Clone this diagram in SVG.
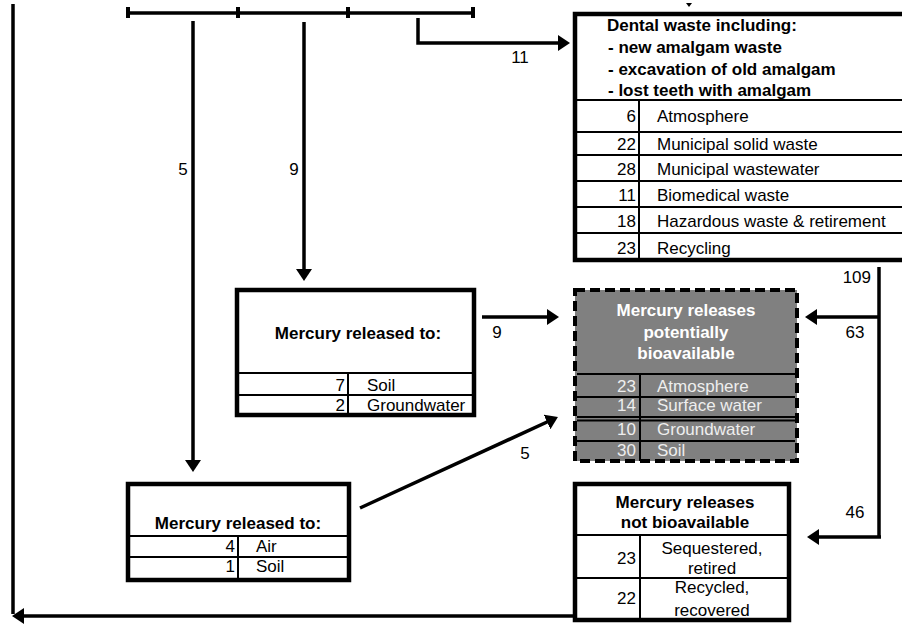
<svg xmlns="http://www.w3.org/2000/svg" width="902" height="624" viewBox="0 0 902 624">
<style>
text{font-family:"Liberation Sans",Arial,sans-serif;font-size:17px;fill:#000}
.b{font-weight:bold}
.m{text-anchor:middle}
.r{text-anchor:end}
.w{fill:#ffffff}
.lw{fill:#eeeeee}
.box{fill:#fff;stroke:#000;stroke-width:4.5}
.gbox{fill:#808080;stroke:#000;stroke-width:4;stroke-dasharray:10 5}
.div{stroke:#000;stroke-width:2;fill:none}
.con{stroke:#000;stroke-width:3.5;fill:none}
</style>
<defs>
<marker id="ah" markerUnits="userSpaceOnUse" markerWidth="12" markerHeight="16" refX="6" refY="8" orient="auto">
<path d="M0,0 L12,8 L0,16 z" fill="#000"/>
</marker>
</defs>

<g id="connectors">
<line class="con" x1="128" y1="13" x2="473" y2="13"/>
<rect x="126" y="7" width="4" height="11" fill="#000"/>
<rect x="236" y="7" width="4" height="11" fill="#000"/>
<rect x="346" y="7" width="4" height="11" fill="#000"/>
<rect x="471" y="7" width="4" height="11" fill="#000"/>
<line class="con" x1="13" y1="4" x2="13" y2="614"/>
<line class="con" x1="573" y1="616" x2="18" y2="616" marker-end="url(#ah)"/>
<line class="con" x1="193" y1="21" x2="193" y2="466" marker-end="url(#ah)"/>
<line class="con" x1="304" y1="22" x2="304" y2="275" marker-end="url(#ah)"/>
<polyline class="con" points="418,18 418,43 564,43" marker-end="url(#ah)"/>
<line class="con" x1="482" y1="317" x2="553" y2="317" marker-end="url(#ah)"/>
<line class="con" x1="360" y1="508" x2="552.5" y2="419.5" marker-end="url(#ah)"/>
<line class="con" x1="879" y1="267" x2="879" y2="537"/>
<line class="con" x1="879" y1="317" x2="811" y2="317" marker-end="url(#ah)"/>
<line class="con" x1="881" y1="537" x2="813" y2="537" marker-end="url(#ah)"/>
<polygon points="686,3 692,3 689,7" fill="#000"/>
<text class="m" x="520" y="63">11</text>
<text class="m" x="183" y="175">5</text>
<text class="m" x="294" y="175">9</text>
<text class="m" x="497" y="338">9</text>
<text class="m" x="525" y="459">5</text>
<text class="r" x="871" y="283">109</text>
<text class="m" x="855" y="338">63</text>
<text class="m" x="855" y="518">46</text>
</g>

<g id="dental">
<rect class="box" x="575" y="14" width="340" height="246"/>
<text class="b" x="607" y="31">Dental waste including:</text>
<text class="b" x="608" y="53"> - new amalgam waste</text>
<text class="b" x="608" y="75"> - excavation of old amalgam</text>
<text class="b" x="608" y="96"> - lost teeth with amalgam</text>
<line class="div" x1="575" y1="100" x2="902" y2="100"/>
<line class="div" x1="575" y1="132" x2="902" y2="132"/>
<line class="div" x1="575" y1="155" x2="902" y2="155"/>
<line class="div" x1="575" y1="181" x2="902" y2="181"/>
<line class="div" x1="575" y1="207" x2="902" y2="207"/>
<line class="div" x1="575" y1="233" x2="902" y2="233"/>
<line class="div" x1="639" y1="100" x2="639" y2="260"/>
<text class="r" x="636" y="122">6</text><text x="657" y="122">Atmosphere</text>
<text class="r" x="636" y="150">22</text><text x="657" y="150">Municipal solid waste</text>
<text class="r" x="636" y="175">28</text><text x="657" y="175">Municipal wastewater</text>
<text class="r" x="636" y="201">11</text><text x="657" y="201">Biomedical waste</text>
<text class="r" x="636" y="227">18</text><text x="657" y="227">Hazardous waste &amp; retirement</text>
<text class="r" x="636" y="254">23</text><text x="657" y="254">Recycling</text>
</g>

<g id="bioavailable">
<rect class="gbox" x="575" y="290" width="222" height="171"/>
<text class="b m w" x="686" y="316">Mercury releases</text>
<text class="b m w" x="686" y="338">potentially</text>
<text class="b m w" x="686" y="359">bioavailable</text>
<line class="div" x1="577" y1="374" x2="795" y2="374"/>
<line class="div" x1="577" y1="397" x2="795" y2="397"/>
<line class="div" x1="577" y1="417" x2="795" y2="417"/>
<line class="div" x1="577" y1="420.5" x2="795" y2="420.5"/>
<line class="div" x1="577" y1="441" x2="795" y2="441"/>
<line class="div" x1="640" y1="374" x2="640" y2="461"/>
<text class="r lw" x="636" y="392">23</text><text class="lw" x="657" y="392">Atmosphere</text>
<text class="r lw" x="636" y="411">14</text><text class="lw" x="657" y="411">Surface water</text>
<text class="r lw" x="636" y="435">10</text><text class="lw" x="657" y="435">Groundwater</text>
<text class="r lw" x="636" y="456">30</text><text class="lw" x="657" y="456">Soil</text>
</g>

<g id="released-mid">
<rect class="box" x="237" y="290" width="237" height="125"/>
<text class="b m" x="358" y="339">Mercury released to:</text>
<line class="div" x1="237" y1="373" x2="474" y2="373"/>
<line class="div" x1="237" y1="395" x2="474" y2="395"/>
<line class="div" x1="348" y1="373" x2="348" y2="415"/>
<text class="r" x="345" y="391">7</text><text x="367" y="391">Soil</text>
<text class="r" x="345" y="411">2</text><text x="367" y="411">Groundwater</text>
</g>

<g id="released-low">
<rect class="box" x="128" y="484" width="221" height="96"/>
<text class="b m" x="238" y="529">Mercury released to:</text>
<line class="div" x1="128" y1="536" x2="349" y2="536"/>
<line class="div" x1="128" y1="557" x2="349" y2="557"/>
<line class="div" x1="238" y1="536" x2="238" y2="580"/>
<text class="r" x="235" y="552">4</text><text x="256" y="552">Air</text>
<text class="r" x="235" y="572">1</text><text x="256" y="572">Soil</text>
</g>

<g id="not-bioavailable">
<rect class="box" x="575" y="484" width="214" height="136"/>
<text class="b m" x="685" y="508">Mercury releases</text>
<text class="b m" x="685" y="528">not bioavailable</text>
<line class="div" x1="575" y1="535" x2="789" y2="535"/>
<line class="div" x1="575" y1="578" x2="789" y2="578"/>
<line class="div" x1="640" y1="535" x2="640" y2="620"/>
<text class="r" x="636" y="564">23</text>
<text class="m" x="712" y="554">Sequestered,</text>
<text class="m" x="712" y="574">retired</text>
<text class="r" x="636" y="604">22</text>
<text class="m" x="712" y="593">Recycled,</text>
<text class="m" x="712" y="616">recovered</text>
</g>
</svg>
